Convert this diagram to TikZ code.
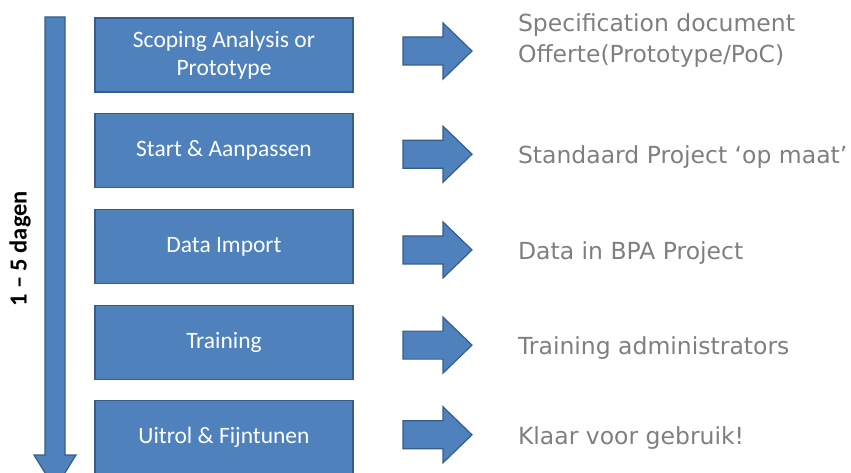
\documentclass[tikz,border=0pt]{standalone}
\usepackage{fontspec}
\setmainfont{Carlito}
\newfontfamily\resultfont{DejaVu Sans}
\usetikzlibrary{positioning}
\definecolor{myblue}{RGB}{79,129,189}
\definecolor{mydarkblue}{RGB}{56,93,138}
\definecolor{mygray}{RGB}{127,127,127}
\newcommand{\widthphase}{258pt}
\newcommand{\heightphase}{74pt}
% block arrow pointing right, drawn from its west point
\newcommand{\blockarrow}[1]{
    \draw[arrowbody] (#1) ++(0,-14) -- ++(40,0) -- ++(0,-14) -- ++(29,28)
        -- ++(-29,28) -- ++(0,-14) -- ++(-40,0) -- cycle;
}
\tikzset{
    phase/.style={draw=mydarkblue, fill=myblue, line width=1.2pt, rectangle,
        minimum width=\widthphase, minimum height=\heightphase,
        text=white, font=\fontsize{23.5}{28}\selectfont, align=center},
    result/.style={anchor=base west, text=mygray, align=left,
        font=\resultfont\fontsize{23.5}{31}\selectfont},
    arrowbody/.style={draw=mydarkblue, fill=myblue, line width=1.2pt, line join=miter}
}
\begin{document}
\begin{tikzpicture}[x=1pt, y=-1pt]
    \useasboundingbox (0,0) rectangle (851,473);

    % timeline
    \draw[arrowbody] (45,17) -- (65,17) -- (65,455) -- (76,455) -- (55,489)
        -- (34,455) -- (45,455) -- cycle;
    \node[rotate=90, font=\bfseries\fontsize{24.5}{28}\selectfont] (days) at (20,249) {1 -- 5 dagen};

    % phases
    \node[phase] (scoping) at (224,55) {Scoping Analysis or\\Prototype};
    \node[phase, below=20.5pt of scoping] (start) {Start \& Aanpassen};
    \node[phase, below=20.5pt of start] (import) {Data Import};
    \node[phase, below=20.5pt of import] (training) {Training};
    \node[phase, below=20.5pt of training] (rollout) {Uitrol \& Fijntunen};

    % arrows and results
    \foreach \p/\dy in {scoping/-4, start/3.5, import/3.5, training/3, rollout/-3} {
        \coordinate (\p-arrow) at ([shift={(179,\dy)}]\p.center);
        \blockarrow{\p-arrow}
    }
    \node[result] (spec) at (514.5,63) {Specification document\\Offerte(Prototype/PoC)};
    \node[result] (standard) at ([shift={(111.5,9.5)}]start-arrow) {Standaard Project ‘op maat’};
    \node[result] (data) at ([shift={(111.5,9.5)}]import-arrow) {Data in BPA Project};
    \node[result] (admins) at ([shift={(111.5,9.5)}]training-arrow) {Training administrators};
    \node[result] (ready) at ([shift={(111.5,9.5)}]rollout-arrow) {Klaar voor gebruik!};
\end{tikzpicture}
\end{document}
